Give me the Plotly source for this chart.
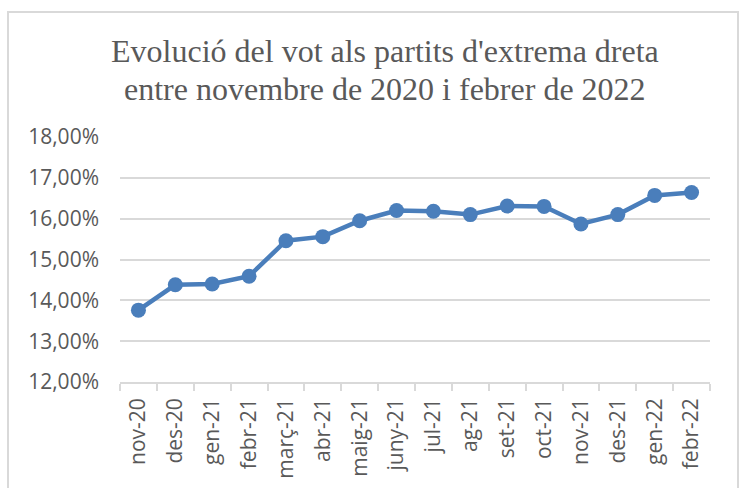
import plotly.graph_objects as go

months = ["nov-20", "des-20", "gen-21", "febr-21", "març-21", "abr-21", "maig-21", "juny-21",
          "jul-21", "ag-21", "set-21", "oct-21", "nov-21", "des-21", "gen-22", "febr-22"]
vote_pct = [13.76, 14.38, 14.40, 14.59, 15.46, 15.56, 15.95, 16.20,
            16.18, 16.10, 16.31, 16.30, 15.87, 16.10, 16.57, 16.64]
y_ticks = [12, 13, 14, 15, 16, 17, 18]
y_tick_labels = [f"{v:.2f}%".replace(".", ",") for v in y_ticks]
title_lines = ["Evolució del vot als partits d'extrema dreta",
               "entre novembre de 2020 i febrer de 2022"]

W, H = 743, 488
L, R, T, B = 120, 33, 137, 106
pw, ph = W - L - R, H - T - B

fig = go.Figure(go.Scatter(
    x=months, y=vote_pct, mode="lines+markers",
    line=dict(color="#4A7EBB", width=4.5),
    marker=dict(color="#4A7EBB", size=15),
    hoverinfo="x+y",
))

gray = "#595959"


def py(ypix):
    return (H - B - ypix) / ph


annotations = [
    dict(text=t, xref="paper", yref="paper", x=(385 - L) / pw, y=py(yp),
         xanchor="center", yanchor="middle", showarrow=False,
         font=dict(family="Liberation Serif", size=32, color=gray))
    for t, yp in zip(title_lines, [51, 89])
]

fig.update_layout(
    width=W, height=H,
    margin=dict(l=L, r=R, t=T, b=B, autoexpand=False),
    paper_bgcolor="white", plot_bgcolor="white",
    showlegend=False,
    annotations=annotations,
    xaxis=dict(type="category", range=[-0.5, len(months) - 0.5], tickangle=-90, showgrid=False,
               showline=True, linecolor="#D9D9D9", linewidth=1.5,
               ticks="outside", tickson="boundaries", ticklen=7,
               tickcolor="#D9D9D9", tickwidth=1.5, ticklabelstandoff=6,
               automargin=False,
               tickfont=dict(family="Open Sans", size=21, color=gray)),
    yaxis=dict(range=[12, 18], tickvals=y_ticks, ticktext=y_tick_labels,
               showgrid=True, gridcolor="#D9D9D9", gridwidth=1.5,
               zeroline=False, showline=False, ticks="", ticklabelstandoff=20,
               automargin=False,
               tickfont=dict(family="Open Sans", size=21, color=gray)),
    shapes=[dict(type="rect", xref="paper", yref="paper",
                 x0=(8 - L) / pw, x1=(738 - L) / pw,
                 y0=py(520), y1=py(12),
                 line=dict(color="#D9D9D9", width=2), fillcolor="rgba(0,0,0,0)", layer="below")],
)

fig.write_html("out.html", config={"displayModeBar": False},
               post_script="document.body.style.margin='0';")
